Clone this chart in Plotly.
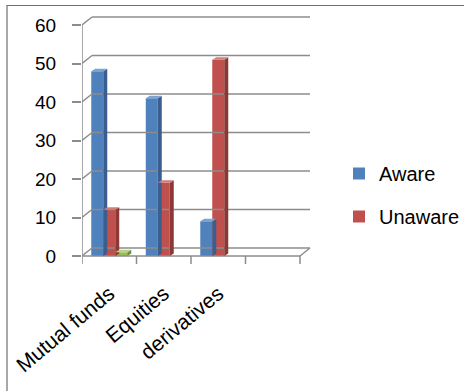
import plotly.graph_objects as go

# Awareness of investment products (counts)
categories = ["Mutual funds", "Equities", "derivatives"]
aware = [48, 41, 9]
unaware = [12, 19, 51]
other = [1, None, None]
y_ticks = [0, 10, 20, 30, 40, 50, 60]

W, H = 464, 391
# pixel geometry of the plot frame
X_LEFT_PX, X_RIGHT_PX = 82, 312
CAT_PX = 54.5
Y0_PX, Y60_PX = 256, 25
PX_PER_UNIT = (Y0_PX - Y60_PX) / 60.0

n_slots = 4  # one empty slot at the right end of the floor
x_min = -0.5
x_max = x_min + (X_RIGHT_PX - X_LEFT_PX) / CAT_PX
y_min, y_max = -2.2, 63.0
y_dom = [1 - (Y0_PX - y_min * PX_PER_UNIT) / H, 1 - (Y0_PX - y_max * PX_PER_UNIT) / H]

# wall / bar depth offsets in data units
wall_dx = 10 / CAT_PX
wall_dy = 8 / PX_PER_UNIT
bar_dx = 4 / CAT_PX
bar_dy = 2.5 / PX_PER_UNIT

bargap = 0.34
bar_w = (1 - bargap) / 3

series = [
    ("Aware", aware, "#4F81BD", "#3A5F8E", "#7EA3D3", True),
    ("Unaware", unaware, "#C0504D", "#8C3835", "#D27D7A", True),
    ("Other", other, "#9BBB59", "#718B3F", "#B9D283", False),
]

fig = go.Figure()
shapes = []
grid_col = "#8C8C8C"

# back wall gridlines with their diagonal connectors to the front axis
for v in y_ticks:
    shapes.append(dict(type="line", xref="x", yref="y", x0=x_min, y0=v,
                       x1=x_min + wall_dx, y1=v + wall_dy,
                       line=dict(color=grid_col, width=1.5)))
    shapes.append(dict(type="line", xref="x", yref="y", x0=x_min + wall_dx, y0=v + wall_dy,
                       x1=x_min + n_slots + wall_dx, y1=v + wall_dy,
                       line=dict(color=grid_col, width=1.5)))

# front floor edge, right floor edge and front value axis
shapes.append(dict(type="line", xref="x", yref="y", x0=x_min, y0=0, x1=x_min + n_slots, y1=0,
                   line=dict(color=grid_col, width=1.5)))
shapes.append(dict(type="line", xref="x", yref="y", x0=x_min + n_slots, y0=0,
                   x1=x_min + n_slots + wall_dx, y1=wall_dy,
                   line=dict(color=grid_col, width=1.5)))
shapes.append(dict(type="line", xref="x", yref="y", x0=x_min, y0=0, x1=x_min, y1=60,
                   line=dict(color=grid_col, width=1.5)))

# category boundary tick marks
for k in range(n_slots + 1):
    shapes.append(dict(type="line", xref="x", yref="y", x0=x_min + k, y0=0,
                       x1=x_min + k, y1=-8 / PX_PER_UNIT,
                       line=dict(color=grid_col, width=1.5)))

for i, (name, vals, front, side, top, show) in enumerate(series):
    xs = [j for j, v in enumerate(vals) if v is not None]
    ys = [v for v in vals if v is not None]
    fig.add_trace(go.Bar(
        x=xs, y=ys, name=name, marker=dict(color=front, line=dict(width=0)),
        showlegend=show, legendgroup=name,
    ))
    for j, v in zip(xs, ys):
        c = j + (i - 1) * bar_w
        xl, xr = c - bar_w / 2, c + bar_w / 2
        shapes.append(dict(type="path", xref="x", yref="y", layer="above",
                           path=f"M {xr},0 L {xr + bar_dx},{bar_dy} L {xr + bar_dx},{v + bar_dy} L {xr},{v} Z",
                           fillcolor=side, line=dict(width=0)))
        shapes.append(dict(type="path", xref="x", yref="y", layer="above",
                           path=f"M {xl},{v} L {xl + bar_dx},{v + bar_dy} L {xr + bar_dx},{v + bar_dy} L {xr},{v} Z",
                           fillcolor=top, line=dict(width=0)))

# outer chart border
shapes.append(dict(type="rect", xref="paper", yref="paper", x0=7 / W, y0=-0.05,
                   x1=1.05, y1=1 - 5.5 / H, line=dict(color="#6F6F6F", width=1.2),
                   fillcolor="rgba(0,0,0,0)", layer="below"))

font_family = "Liberation Sans, Arial, sans-serif"
fig.update_layout(
    width=W, height=H,
    margin=dict(l=0, r=0, t=0, b=0, autoexpand=False),
    paper_bgcolor="white", plot_bgcolor="rgba(0,0,0,0)",
    barmode="group", bargap=bargap, bargroupgap=0,
    shapes=shapes,
    font=dict(family=font_family, color="#000000", size=19),
    xaxis=dict(domain=[X_LEFT_PX / W, X_RIGHT_PX / W], range=[x_min, x_max],
               tickvals=list(range(len(categories))), ticktext=categories,
               tickangle=-40, ticks="", showgrid=False, zeroline=False, showline=False,
               tickfont=dict(size=21), ticklabelstandoff=12, automargin=False,
               fixedrange=True),
    yaxis=dict(domain=y_dom, range=[y_min, y_max], tickvals=y_ticks,
               ticks="outside", ticklen=9, tickcolor=grid_col, tickwidth=1.5,
               showgrid=False, zeroline=False, showline=False,
               tickfont=dict(size=19), ticklabelstandoff=12, automargin=False,
               fixedrange=True),
    legend=dict(x=339 / W, y=1 - 154 / H, xanchor="left", yanchor="top",
                traceorder="grouped", tracegroupgap=14, itemwidth=30,
                font=dict(size=20), bgcolor="rgba(0,0,0,0)"),
)

fig.write_html("out.html")
